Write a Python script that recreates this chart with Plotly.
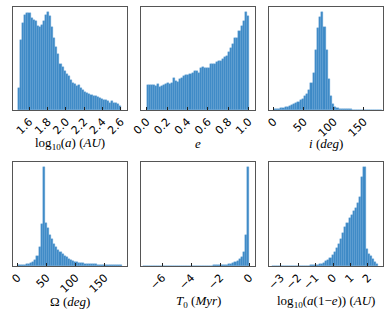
import numpy as np
import plotly.graph_objects as go

# ---- data (histogram counts, 50 bins each) ----
loga_range = [1.476, 2.607]
loga_counts = [65,205,255,280,285,285,270,265,262,248, 245,250,262,280,288,275,245,210,185,165,
               135,125,115,105,100,88,80,75,70,72, 65,60,52,50,48,45,42,40,38,36,
               32,30,28,26,22,25,20,20,18,12]

e_range = [0.0, 1.0]
e_counts = [73,73,72,72,70,76,68,70,72,77, 78,77,78,94,86,82,90,95,100,103,
            102,105,110,114,114,110,122,125,124,124, 124,134,136,134,142,145,145,150,155,160,
            170,182,195,210,212,232,248,262,288,276]

inc_range = [0.0, 180.0]
inc_counts = [2,3,4,5,6,8,10,12,14,17, 20,24,28,33,40,48,60,78,110,175,
              240,272,288,245,175,90,40,18,9,6, 4,3,3,2,2,2,1,1,1,1,
              1,1,1,1,1,1,1,1,0.5,0.5]

Om_range = [0.0, 180.0]
Om_counts = [3,3,4,4,5,6,8,12,18,30, 55,122,290,125,110,92,80,65,55,47,
             40,34,29,25,21,18,15,13,11,10, 9,8,7,6,6,5,5,5,4,4,
             4,4,4,4,4,4,4,4,4,4]

T0_range = [-7.35, 0.0]
T0_counts = [0,0,0,0,0,0,0,0,0,0, 0.1,0.1,0.1,0.1,0.1,0.2,0.2,0.2,0.2,0.3,
             0.3,0.3,0.4,0.4,0.5,0.5,0.6,0.7,0.8,0.9, 1,1.1,1.3,1.5,1.8,2,2.5,3,3.5,4,
             5,7,9,12,15,20,27,40,90,290]

q_range = [-3.5, 2.59]
q_counts = [0.1,0.1,0.1,0.1,0.1,0.1,0.1,0.2,0.2,0.2, 0.3,0.3,0.4,0.5,0.6,0.8,1,1,2,2,
            3,4,5,7,10,14,18,24,32,40, 52,65,80,98,115,125,140,150,160,170,
            185,202,260,290,50,35,28,20,12,5]

# axis view ranges and ticks
panels = [
    dict(rng=loga_range, counts=loga_counts, xr=[1.42, 2.668],
         tv=[1.6, 1.8, 2.0, 2.2, 2.4, 2.6], tt=["1.6", "1.8", "2.0", "2.2", "2.4", "2.6"],
         title="log<sub>10</sub>(<i>a</i>) (<i>AU</i>)"),
    dict(rng=e_range, counts=e_counts, xr=[-0.055, 1.062],
         tv=[0, 0.2, 0.4, 0.6, 0.8, 1.0], tt=["0.0", "0.2", "0.4", "0.6", "0.8", "1.0"],
         title="<i>e</i>"),
    dict(rng=inc_range, counts=inc_counts, xr=[-7.8, 182],
         tv=[0, 50, 100, 150], tt=["0", "50", "100", "150"],
         title="<i>i</i> (<i>deg</i>)"),
    dict(rng=Om_range, counts=Om_counts, xr=[-8, 188.5],
         tv=[0, 50, 100, 150], tt=["0", "50", "100", "150"],
         title="Ω (<i>deg</i>)"),
    dict(rng=T0_range, counts=T0_counts, xr=[-7.47, 0.39],
         tv=[-6, -4, -2, 0], tt=["−6", "−4", "−2", "0"],
         title="<i>T</i><sub>0</sub> (<i>Myr</i>)"),
    dict(rng=q_range, counts=q_counts, xr=[-3.67, 2.86],
         tv=[-3, -2, -1, 0, 1, 2], tt=["−3", "−2", "−1", "0", "1", "2"],
         title="log<sub>10</sub>(<i>a</i>(1−<i>e</i>)) (<i>AU</i>)"),
]

W, H = 390, 317
xdoms = [(13, 127), (141, 255), (269, 383)]
ydoms = [(7, 110), (162, 266)]
title_y = [143, 301]

fig = go.Figure()
layout = dict(width=W, height=H, margin=dict(l=0, r=0, t=0, b=0, autoexpand=False),
              paper_bgcolor="white", plot_bgcolor="white", showlegend=False, bargap=0,
              hovermode=False)
annotations = []

for i, p in enumerate(panels):
    r, c = divmod(i, 3)
    n = len(p["counts"])
    edges = np.linspace(p["rng"][0], p["rng"][1], n + 1)
    centers = 0.5 * (edges[:-1] + edges[1:])
    bw = edges[1] - edges[0]
    xa = "x" if i == 0 else f"x{i+1}"
    ya = "y" if i == 0 else f"y{i+1}"
    fig.add_trace(go.Bar(x=centers, y=p["counts"], width=bw, xaxis=xa, yaxis=ya,
                         marker=dict(color="rgb(60,137,198)",
                                     line=dict(color="rgb(100,165,215)", width=0.4))))
    xk = "xaxis" if i == 0 else f"xaxis{i+1}"
    yk = "yaxis" if i == 0 else f"yaxis{i+1}"
    x0, x1 = xdoms[c]
    y0, y1 = ydoms[r]
    layout[xk] = dict(domain=[x0 / W, x1 / W], anchor=ya, range=p["xr"],
                      tickmode="array", tickvals=p["tv"], ticktext=p["tt"],
                      tickangle=-45, ticks="inside", ticklen=3, tickcolor="#222",
                      tickfont=dict(family="DejaVu Sans", size=11, color="black"),
                      showline=True, linecolor="#555", linewidth=1, mirror=True,
                      showgrid=False, zeroline=False, automargin=False)
    layout[yk] = dict(domain=[1 - y1 / H, 1 - y0 / H], anchor=xa,
                      range=[0, max(p["counts"]) * 1.05],
                      showticklabels=False, ticks="", showgrid=False, zeroline=False,
                      showline=True, linecolor="#555", linewidth=1, mirror=True,
                      automargin=False)
    annotations.append(dict(text=p["title"], xref="paper", yref="paper",
                            x=(x0 + x1) / 2 / W, y=1 - title_y[r] / H,
                            xanchor="center", yanchor="middle", showarrow=False,
                            font=dict(family="Liberation Serif", size=13, color="black")))

layout["annotations"] = annotations
fig.update_layout(**layout)
fig.write_html("out.html", config={"displayModeBar": False},
               post_script="document.body.style.margin='0px';document.body.style.overflow='hidden';")
